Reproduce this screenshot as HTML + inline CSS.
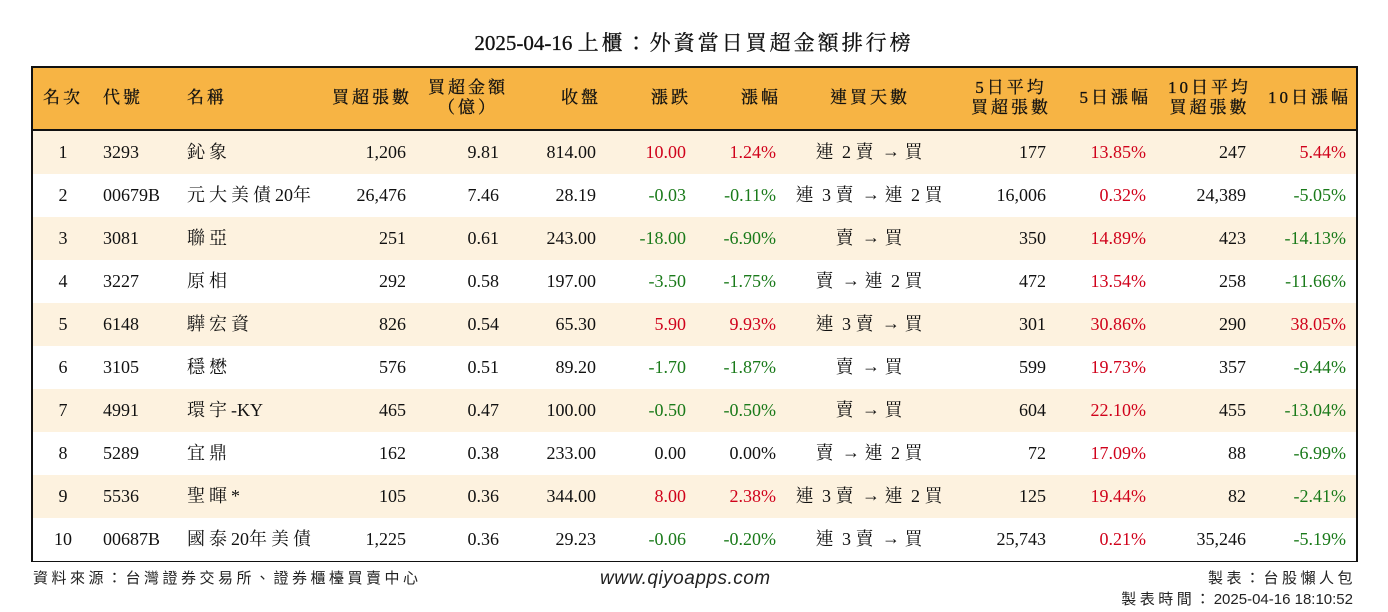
<!DOCTYPE html>
<html><head><meta charset="utf-8">
<style>
body{margin:0;width:1388px;height:612px;background:#fff;position:relative;overflow:hidden;font-family:"Liberation Serif","Noto Serif CJK TC","Noto Serif CJK SC",serif;color:#111}
.t{position:absolute;white-space:nowrap}
#title{left:0;width:1388px;top:27px;text-align:center;font-size:21px;-webkit-text-stroke:0.3px #111}
#tbl{position:absolute;left:31px;top:66px;width:1323px;height:492px;border:2px solid #111}
#hdr{position:absolute;left:0;top:0;width:1323px;height:61px;background:#f7b444;border-bottom:2px solid #111}
.row{position:absolute;left:0;width:1323px;height:43px}
.c{position:absolute;font-size:18px;line-height:43px;white-space:nowrap}
.h{position:absolute;font-size:17px;line-height:20px;white-space:nowrap;text-align:center;letter-spacing:3px;-webkit-text-stroke:0.3px #111}
.cj{letter-spacing:4px}
.ar{font-family:"Liberation Sans",sans-serif;position:relative;top:-1px}
.r{color:#d0021b}.g{color:#1a7a1a}
.foot{font-family:"Liberation Sans","Noto Sans CJK TC",sans-serif;font-size:15px;color:#222}
.fc{letter-spacing:3.5px}
</style></head><body>
<div class="t" id="title">2025-04-16 <span style="letter-spacing:3px">上櫃：外資當日買超金額排行榜</span></div>
<div id="tbl">
<div id="hdr"></div>
<div id="body"></div>
</div>
<div class="t foot fc" style="left:33px;top:567px">資料來源：台灣證券交易所、證券櫃檯買賣中心</div>
<div class="t foot" style="left:600px;top:568px;font-size:19px;font-style:italic;letter-spacing:0.5px">www.qiyoapps.com</div>
<div class="t foot fc" style="right:32px;top:567px">製表：台股懶人包</div>
<div class="t foot" style="right:35px;top:588px"><span class="fc">製表時間：</span>2025-04-16 18:10:52</div>
<script>
const ranks=["1","2","3","4","5","6","7","8","9","10"];
const codes=["3293","00679B","3081","3227","6148","3105","4991","5289","5536","00687B"];
const names=["鈊象","元大美債20年","聯亞","原相","驊宏資","穩懋","環宇-KY","宜鼎","聖暉*","國泰20年美債"];
const netBuy=["1,206","26,476","251","292","826","576","465","162","105","1,225"];
const amount=["9.81","7.46","0.61","0.58","0.54","0.51","0.47","0.38","0.36","0.36"];
const closes=["814.00","28.19","243.00","197.00","65.30","89.20","100.00","233.00","344.00","29.23"];
const changes=["10.00","-0.03","-18.00","-3.50","5.90","-1.70","-0.50","0.00","8.00","-0.06"];
const pcts=["1.24%","-0.11%","-6.90%","-1.75%","9.93%","-1.87%","-0.50%","0.00%","2.38%","-0.20%"];
const streaks=["連 2 賣 → 買","連 3 賣 → 連 2 買","賣 → 買","賣 → 連 2 買","連 3 賣 → 買","賣 → 買","賣 → 買","賣 → 連 2 買","連 3 賣 → 連 2 買","連 3 賣 → 買"];
const avg5=["177","16,006","350","472","301","599","604","72","125","25,743"];
const pct5=["13.85%","0.32%","14.89%","13.54%","30.86%","19.73%","22.10%","17.09%","19.44%","0.21%"];
const avg10=["247","24,389","423","258","290","357","455","88","82","35,246"];
const pct10=["5.44%","-5.05%","-14.13%","-11.66%","38.05%","-9.44%","-13.04%","-6.99%","-2.41%","-5.19%"];
function col(v){return v.startsWith('-')?'g':(parseFloat(v)>0?'r':'');}
function cjk(s){return s.replace(/([\u4e00-\u9fff]+)/g,'<span class="cj">$1</span>').replace(/→/g,'<span class="ar">→</span>');}
const hdr=document.getElementById('hdr');
const heads=[["名次",30,"c"],["代號",70,"l"],["名稱",154,"l"],["買超張數",376,"r"],["買超金額<br>（億）",435,"c"],["收盤",565,"r"],["漲跌",655,"r"],["漲幅",745,"r"],["連買天數",837,"c"],["5日平均<br>買超張數",1015,"r"],["5日漲幅",1115,"r"],["10日平均<br>買超張數",1215,"r"],["10日漲幅",1315,"r"]];
heads.forEach((h,i)=>{
  const d=document.createElement('div');
  d.className='h';
  
  
  d.innerHTML=h[0];
  const two=h[0].includes('<br>');
  d.style.top=two?'10px':'20px';
  if(h[2]==='c'){d.style.left=(h[1]-60)+'px';d.style.width='120px';}
  else if(h[2]==='l'){d.style.left=h[1]+'px';d.style.textAlign='left';}
  else{d.style.right=(1323-h[1]-3)+'px';d.style.textAlign=two?'center':'right';}
  hdr.appendChild(d);
});
const body=document.getElementById('body');
ranks.forEach((rk,i)=>{
  const row=document.createElement('div');
  row.className='row';
  
  
  row.style.top=(63+i*43)+'px';
  row.style.background=i%2===0?'#fdf2df':'#fff';
  const cells=[[rk,30,'c',''],[codes[i],70,'l',''],[names[i],154,'l',''],[netBuy[i],373,'r',''],[amount[i],466,'r',''],[closes[i],563,'r',''],[changes[i],653,'r',col(changes[i])],[pcts[i],743,'r',col(pcts[i])],[streaks[i],838,'c',''],[avg5[i],1013,'r',''],[pct5[i],1113,'r',col(pct5[i])],[avg10[i],1213,'r',''],[pct10[i],1313,'r',col(pct10[i])]];
  cells.forEach(c=>{
    const d=document.createElement('div');
    d.className='c '+c[3];
    
    
    d.innerHTML=cjk(c[0]);
    if(c[2]==='c'){d.style.left=(c[1]-100)+'px';d.style.width='200px';d.style.textAlign='center';}
    else if(c[2]==='l'){d.style.left=c[1]+'px';}
    else{d.style.right=(1323-c[1])+'px';}
    row.appendChild(d);
  });
  body.appendChild(row);
});
</script>
</body></html>
